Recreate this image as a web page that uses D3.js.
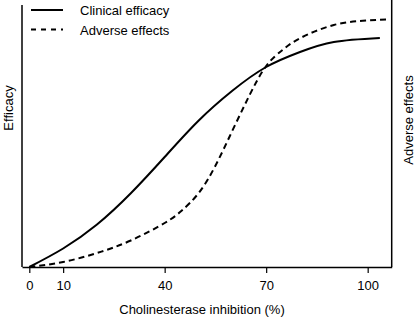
<!DOCTYPE html>
<html>
<head>
<meta charset="utf-8">
<script src="https://cdn.jsdelivr.net/npm/d3@7"></script>
<style>
  body { margin: 0; background: #fff; }
  svg { display: block; font-family: "Liberation Sans", Arial, sans-serif; }
</style>
</head>
<body>
<svg id="chart" width="415" height="318"></svg>
<script>
// Values (x = % inhibition, y = relative response)
const xTicks = [0, 10, 40, 70, 100];

const efficacyX = [0, 10, 20, 30, 40, 50, 60, 70, 80, 90, 103.6];
const efficacyY = [0, 7.4, 17.0, 29.5, 44.0, 58.5, 70.5, 80.0, 86.0, 90.0, 91.6];

const adverseX = [0, 10, 20, 30, 40, 45, 50, 55, 60, 65, 70, 75, 80, 90, 100, 106];
const adverseY = [0, 2.0, 5.6, 10.6, 17.6, 22.5, 29.5, 40.5, 54.5, 68.5, 80.4, 87.0, 91.5, 96.8, 98.6, 99.0];

const seriesNames = ["Clinical efficacy", "Adverse effects"];

document.addEventListener("DOMContentLoaded", function () {
    const svg = d3.select("#chart");

    const x = d3.scaleLinear().domain([-2.16, 107.1]).range([22, 391.7]);
    const y = d3.scaleLinear().domain([0, 100]).range([267, 17]);

    // axes frame ----------
    svg.append("line")
        .attr("x1", 22).attr("x2", 22)
        .attr("y1", 5).attr("y2", 267)
        .attr("stroke", "#000").attr("stroke-width", 1.5);

    svg.append("line")
        .attr("x1", 391.7).attr("x2", 391.7)
        .attr("y1", 0).attr("y2", 267)
        .attr("stroke", "#000").attr("stroke-width", 1.5);

    const xAxis = svg.append("g")
        .attr("transform", "translate(0,267)")
        .call(d3.axisBottom(x).tickValues(xTicks).tickSize(6).tickSizeOuter(0).tickPadding(8));
    xAxis.select(".domain").attr("stroke-width", 1.5);
    xAxis.selectAll(".tick line").attr("stroke-width", 1.2);
    xAxis.selectAll(".tick text")
        .attr("font-size", 13)
        .attr("font-family", "Liberation Sans, Arial, sans-serif")
        .attr("fill", "#000");

    // lines ----------
    const line = d3.line()
        .x(d => x(d[0]))
        .y(d => y(d[1]))
        .curve(d3.curveNatural);

    svg.append("path")
        .datum(d3.zip(efficacyX, efficacyY))
        .attr("d", line)
        .attr("fill", "none")
        .attr("stroke", "#000")
        .attr("stroke-width", 2);

    svg.append("path")
        .datum(d3.zip(adverseX, adverseY))
        .attr("d", line)
        .attr("fill", "none")
        .attr("stroke", "#000")
        .attr("stroke-width", 2)
        .attr("stroke-dasharray", "6,4");

    // labels ----------
    svg.append("text")
        .attr("x", 202).attr("y", 314)
        .attr("text-anchor", "middle")
        .attr("font-size", 13)
        .text("Cholinesterase inhibition (%)");

    svg.append("text")
        .attr("transform", "translate(13,108) rotate(-90)")
        .attr("text-anchor", "middle")
        .attr("font-size", 13)
        .text("Efficacy");

    svg.append("text")
        .attr("transform", "translate(413,120) rotate(-90)")
        .attr("text-anchor", "middle")
        .attr("font-size", 13)
        .text("Adverse effects");

    // legend ----------
    const legend = svg.append("g");
    seriesNames.forEach((name, i) => {
        const ly = 10 + i * 19.5;
        legend.append("line")
            .attr("x1", 31).attr("x2", 63)
            .attr("y1", ly).attr("y2", ly)
            .attr("stroke", "#000")
            .attr("stroke-width", 2)
            .attr("stroke-dasharray", i === 1 ? "5,5" : null);
        legend.append("text")
            .attr("x", 80).attr("y", ly + 5)
            .attr("font-size", 13)
            .text(name);
    });
});
</script>
</body>
</html>
